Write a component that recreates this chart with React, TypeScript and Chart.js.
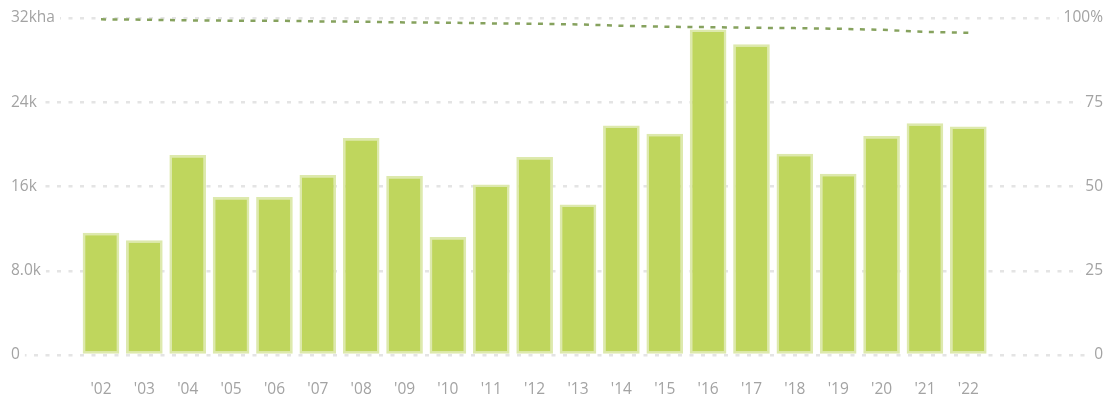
import React, { useEffect, useRef } from "react";
import { Chart, registerables } from "chart.js";

Chart.register(...registerables);

const years = ["'02", "'03", "'04", "'05", "'06", "'07", "'08", "'09", "'10", "'11", "'12", "'13", "'14", "'15", "'16", "'17", "'18", "'19", "'20", "'21", "'22"];
const areaHa = [11600, 10900, 19000, 15000, 15000, 17100, 20600, 17000, 11200, 16200, 18800, 14300, 21800, 21000, 30900, 29500, 19100, 17200, 20800, 22000, 21700];
const sharePct = [99.6, 99.5, 99.3, 99.2, 99.2, 99.0, 98.9, 98.7, 98.6, 98.4, 98.3, 98.1, 97.7, 97.4, 97.3, 97.1, 97.0, 96.8, 96.5, 95.9, 95.6];
const leftTicks = ["0", "8.0k", "16k", "24k", "32kha"];
const rightTicks = ["0", "25", "50", "75", "100%"];

export default function App() {
  const ref = useRef<HTMLCanvasElement | null>(null);

  useEffect(() => {
    if (!ref.current) return;
    const font = { family: "'Open Sans', sans-serif", size: 15.5 };
    const chart = new Chart(ref.current, {
      type: "bar",
      data: {
        datasets: [
          {
            type: "line",
            label: "share",
            data: sharePct.map((v, i) => ({ x: i, y: v })),
            yAxisID: "y1",
            borderColor: "#86a25e",
            borderWidth: 2.5,
            borderDash: [5, 6.5],
            pointRadius: 0,
            tension: 0,
            fill: false,
          },
          {
            type: "bar",
            label: "area",
            data: areaHa.map((v, i) => ({ x: i, y: v })),
            yAxisID: "y",
            backgroundColor: "#bfd65d",
            borderColor: "#dde9ad",
            borderWidth: 2.5,
            borderSkipped: false,
            barPercentage: 0.845,
            categoryPercentage: 1,
          },
        ],
      },
      options: {
        responsive: false,
        animation: false,
        layout: { padding: { left: 11, right: 4, top: 18, bottom: 4 } },
        plugins: { legend: { display: false }, tooltip: { enabled: false } },
        scales: {
          x: {
            type: "linear",
            offset: false,
            min: -2.075,
            max: 23.106,
            grid: { display: false, drawTicks: false, offset: false },
            border: { display: false },
            afterBuildTicks: (scale: any) => {
              scale.ticks = years.map((_, i) => ({ value: i }));
            },
            afterFit: (scale: any) => {
              scale.height = 43;
            },
            ticks: {
              autoSkip: false,
              maxRotation: 0,
              padding: 25,
              color: "#a3a3a3",
              font,
              callback: (v: any) => years[v as number] ?? "",
            },
          },
          y: {
            position: "left",
            min: 0,
            max: 32000,
            afterBuildTicks: (scale: any) => {
              scale.ticks = leftTicks.map((_, i) => ({ value: i * 8000 }));
            },
            grid: { color: "#e4e4e4", lineWidth: 2.5, drawTicks: false },
            border: { display: false, dash: [4, 7.5] },
            ticks: {
              mirror: true,
              padding: 0,
              color: "#a3a3a3",
              font,
              showLabelBackdrop: true,
              backdropColor: "#ffffff",
              backdropPadding: { left: 2, right: 5, top: 2, bottom: 2 },
              callback: (_v: any, i: number) => leftTicks[i],
            },
          },
          y1: {
            position: "right",
            min: 0,
            max: 100,
            afterBuildTicks: (scale: any) => {
              scale.ticks = rightTicks.map((_, i) => ({ value: i * 25 }));
            },
            grid: { display: false, drawTicks: false },
            border: { display: false },
            ticks: {
              mirror: true,
              padding: 0,
              color: "#a3a3a3",
              font,
              showLabelBackdrop: true,
              backdropColor: "#ffffff",
              backdropPadding: { left: 5, right: 2, top: 2, bottom: 2 },
              callback: (_v: any, i: number) => rightTicks[i],
            },
          },
        },
      },
    } as any);
    return () => chart.destroy();
  }, []);

  return (
    <div style={{ position: "fixed", left: 0, top: 0, width: 1107, height: 402, background: "#ffffff" }}>
      <canvas ref={ref} width={1107} height={402} style={{ display: "block" }} />
    </div>
  );
}
